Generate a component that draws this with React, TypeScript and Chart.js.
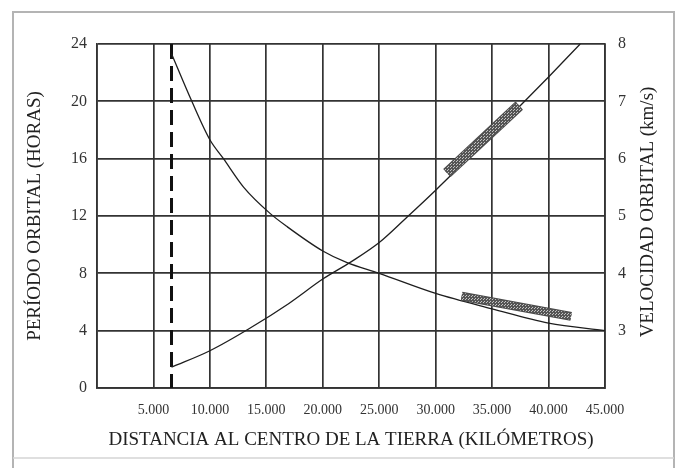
import React, { useEffect, useRef } from "react";
import { Chart, registerables } from "chart.js";

Chart.register(...registerables);

// ---- data ----
const xTickValues = [0, 5000, 10000, 15000, 20000, 25000, 30000, 35000, 40000, 45000];
const xTickLabels = ["", "5.000", "10.000", "15.000", "20.000", "25.000", "30.000", "35.000", "40.000", "45.000"];
const periodTickValues = [0, 4, 8, 12, 16, 20, 24];
const velocityTickValues = [3, 4, 5, 6, 7, 8];

// Orbital period (hours) vs distance (km)
const periodDist = [6600, 10000, 13500, 17000, 20000, 22500, 25000, 27500, 30000, 35000, 40000, 42800];
const periodHours = [1.45, 2.6, 4.15, 5.9, 7.6, 8.8, 10.15, 11.95, 13.8, 17.7, 21.7, 24];

// Orbital velocity (km/s) vs distance (km)
const velDist = [6600, 8400, 10000, 11200, 13000, 15300, 16800, 20000, 22100, 25000, 30000, 35000, 40000, 45000];
const velKms = [7.83, 7.0, 6.33, 6.0, 5.5, 5.05, 4.82, 4.39, 4.19, 4.0, 3.65, 3.38, 3.13, 3.0];

// Earth surface marker (dashed line)
const earthDist = [6600, 6600];
const earthHours = [24, 0];

// Hatched bands
const band1Dist = [31000, 37400];
const band1Hours = [15.0, 19.7];
const band2Dist = [32300, 42000];
const band2Kms = [3.6, 3.25];

const xTitle = "DISTANCIA AL CENTRO DE LA TIERRA (KILÓMETROS)";
const leftTitle = "PERÍODO ORBITAL (HORAS)";
const rightTitle = "VELOCIDAD ORBITAL (km/s)";

const FONT = '"Liberation Serif", "Times New Roman", serif';
const GRID = "#333333";

const pts = (xs: number[], ys: number[]) => xs.map((x, i) => ({ x, y: ys[i] }));

export default function App() {
  const ref = useRef<HTMLCanvasElement | null>(null);

  useEffect(() => {
    document.body.style.margin = "0";
    const canvas = ref.current!;
    const ctx = canvas.getContext("2d")!;

    const pc = document.createElement("canvas");
    pc.width = 3;
    pc.height = 3;
    const p = pc.getContext("2d")!;
    p.fillStyle = "#555555";
    p.fillRect(0, 0, 3, 3);
    p.fillStyle = "#c4c4c4";
    p.fillRect(1, 1, 1, 1);
    p.fillRect(0, 2, 1, 1);
    const pattern = ctx.createPattern(pc, "repeat")!;

    const framePlugin = {
      id: "frame",
      beforeDraw(chart: any) {
        const c = chart.ctx;
        c.save();
        c.fillStyle = "#ffffff";
        c.fillRect(0, 0, chart.width, chart.height);
        c.strokeStyle = "#b4b4b4";
        c.lineWidth = 2;
        c.beginPath();
        c.moveTo(13, 468);
        c.lineTo(13, 12);
        c.lineTo(674, 12);
        c.lineTo(674, 468);
        c.stroke();
        c.strokeStyle = "#d4d4d4";
        c.lineWidth = 1.5;
        c.beginPath();
        c.moveTo(13, 458);
        c.lineTo(674, 458);
        c.stroke();
        c.restore();
      },
      afterDraw(chart: any) {
        const c = chart.ctx;
        c.save();
        c.translate(648, 212);
        c.rotate(-Math.PI / 2);
        c.font = `19px ${FONT}`;
        c.fillStyle = "#222";
        c.textAlign = "center";
        c.textBaseline = "middle";
        c.fillText(rightTitle, 0, 0);
        c.restore();
      },
    };

    const chart = new Chart(canvas, {
      type: "line",
      data: {
        datasets: [
          {
            label: "banda1",
            data: pts(band1Dist, band1Hours),
            yAxisID: "y",
            borderColor: pattern as any,
            borderWidth: 9,
            borderCapStyle: "butt",
            pointRadius: 0,
            order: 0,
          },
          {
            label: "banda1-borde",
            data: pts(band1Dist, band1Hours),
            yAxisID: "y",
            borderColor: "#4a4a4a",
            borderWidth: 11,
            borderCapStyle: "butt",
            pointRadius: 0,
            order: 1,
          },
          {
            label: "banda2",
            data: pts(band2Dist, band2Kms),
            yAxisID: "y1",
            borderColor: pattern as any,
            borderWidth: 7,
            borderCapStyle: "butt",
            pointRadius: 0,
            order: 0,
          },
          {
            label: "banda2-borde",
            data: pts(band2Dist, band2Kms),
            yAxisID: "y1",
            borderColor: "#4a4a4a",
            borderWidth: 9,
            borderCapStyle: "butt",
            pointRadius: 0,
            order: 1,
          },
          {
            label: "Período orbital",
            data: pts(periodDist, periodHours),
            yAxisID: "y",
            borderColor: "#1e1e1e",
            borderWidth: 1.3,
            pointRadius: 0,
            cubicInterpolationMode: "monotone",
            order: 2,
          },
          {
            label: "Velocidad orbital",
            data: pts(velDist, velKms),
            yAxisID: "y1",
            borderColor: "#1e1e1e",
            borderWidth: 1.3,
            pointRadius: 0,
            cubicInterpolationMode: "monotone",
            order: 2,
          },
          {
            label: "Superficie",
            data: pts(earthDist, earthHours),
            yAxisID: "y",
            borderColor: "#111",
            borderWidth: 3,
            borderDash: [15, 7],
            pointRadius: 0,
            order: 3,
          },
        ],
      },
      options: {
        animation: false,
        responsive: false,
        maintainAspectRatio: false,
        layout: { padding: { left: 0, right: 0, top: 44, bottom: 0 } },
        plugins: {
          legend: { display: false },
          tooltip: { enabled: false },
        },
        scales: {
          x: {
            type: "linear",
            min: 0,
            max: 45000,
            afterBuildTicks: (s: any) => {
              s.ticks = xTickValues.map((v) => ({ value: v }));
            },
            afterFit: (s: any) => {
              s.height = 80;
            },
            grid: { color: GRID, lineWidth: 1.7, drawTicks: false },
            border: { color: GRID, width: 1.7 },
            ticks: {
              autoSkip: false,
              maxRotation: 0,
              padding: 14,
              color: "#333",
              font: { family: FONT, size: 14 },
              callback: (v: any) => {
                const i = xTickValues.indexOf(Number(v));
                return i >= 0 ? xTickLabels[i] : "";
              },
            },
            title: {
              display: true,
              text: xTitle,
              color: "#222",
              font: { family: FONT, size: 19 },
              padding: { top: 0, bottom: 17 },
            },
          },
          y: {
            type: "linear",
            position: "left",
            min: 0,
            max: 24,
            afterBuildTicks: (s: any) => {
              s.ticks = periodTickValues.map((v) => ({ value: v }));
            },
            afterFit: (s: any) => {
              s.width = 97;
            },
            grid: { color: GRID, lineWidth: 1.7, drawTicks: false },
            border: { color: GRID, width: 1.7 },
            ticks: {
              padding: 10,
              color: "#333",
              font: { family: FONT, size: 16 },
            },
            title: {
              display: true,
              text: leftTitle,
              color: "#222",
              font: { family: FONT, size: 19 },
              padding: { top: 24, bottom: 0 },
            },
          },
          y1: {
            type: "linear",
            position: "right",
            min: 2,
            max: 8,
            afterBuildTicks: (s: any) => {
              s.ticks = velocityTickValues.map((v) => ({ value: v }));
            },
            afterFit: (s: any) => {
              s.width = 70;
            },
            grid: { display: false, drawTicks: false },
            border: { color: GRID, width: 1.7 },
            ticks: {
              padding: 13,
              color: "#333",
              font: { family: FONT, size: 16 },
            },
          },
        },
      },
      plugins: [framePlugin],
    } as any);

    return () => chart.destroy();
  }, []);

  return <canvas ref={ref} width={675} height={468} style={{ display: "block" }} />;
}
